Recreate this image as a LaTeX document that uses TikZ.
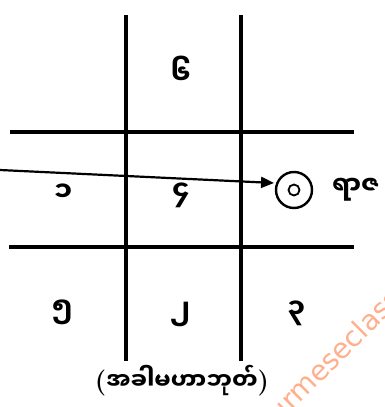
\documentclass[tikz,border=0pt]{standalone}
\usepackage{fontspec}
\newfontfamily\mya[Script=Myanmar]{Noto Sans Myanmar UI}
\newfontfamily\wmfont{DejaVu Sans}
\usetikzlibrary{arrows.meta}
\tikzset{
  gridline/.style={line width=3.3pt, black},
  digit/.style={font=\mya\bfseries\fontsize{27}{30}\selectfont, inner sep=0pt},
  ringout/.style={circle, draw, line width=2.4pt, minimum size=36pt, inner sep=0pt},
  ringin/.style={circle, draw, line width=1.8pt, minimum size=11pt, inner sep=0pt},
  pointer/.style={line width=2.2pt, -{Triangle[length=13pt,width=11pt]}},
}
\begin{document}
\begin{tikzpicture}[x=1pt,y=-1pt]
\useasboundingbox (0,0) rectangle (384,407);
\begin{scope}
\clip (0,0) rectangle (384,407);
\node[text=orange!60!red!45, font=\wmfont\fontsize{28}{30}\selectfont, rotate=45, anchor=west] (wm) at (257,432) {burmeseclass};
\end{scope}
% grid
\draw[gridline] (126,15) -- (126,361);
\draw[gridline] (241,15) -- (241,361);
\draw[gridline] (10,132) -- (354,132);
\draw[gridline] (9,247) -- (354,247);
% digits
\node[digit] (d6) at (181,70) {၆};
\node[digit] (d1) at (63,193) {၁};
\node[digit] (d4) at (181,195) {၄};
\node[digit] (d5) at (62,312) {၅};
\node[digit] (d2) at (180,314) {၂};
\node[digit] (d3) at (296,313) {၃};
% ring and label
\node[ringout] (ring) at (294,190) {};
\node[ringin] (dot) at (ring.center) {};
\node[font=\mya\bfseries\fontsize{25}{28}\selectfont, inner sep=0pt, anchor=west] (raza) at (332,190) {ရာဇ};
% arrow
\coordinate (start) at (0,170);
\coordinate (tip) at (274,183);
\draw[pointer] (start) -- (tip);
% caption
\node[font=\mya\bfseries\fontsize{23}{26}\selectfont, inner sep=0pt] (cap) at (182,381) {{\rmfamily\bfseries\fontsize{26}{28}\selectfont(}အခါမဟာဘုတ်{\rmfamily\bfseries\fontsize{26}{28}\selectfont)}};
\end{tikzpicture}
\end{document}
